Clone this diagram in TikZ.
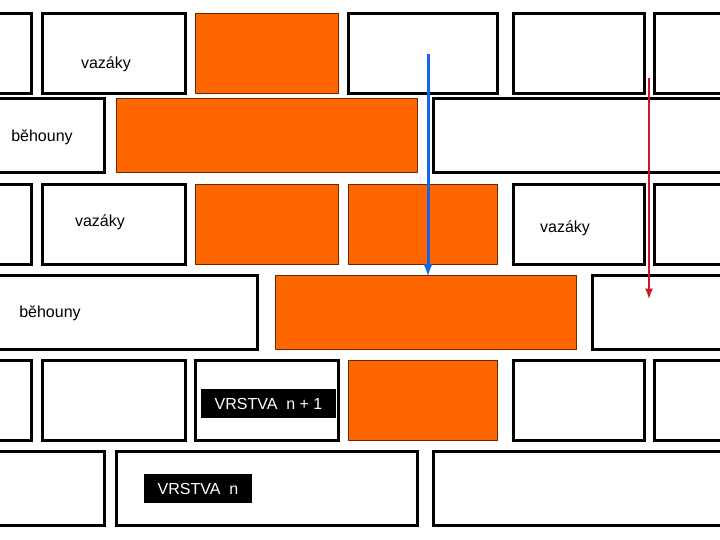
\documentclass[tikz,border=0pt]{standalone}
\usepackage{fontspec}
\setmainfont{Liberation Sans}
\begin{document}
\begin{tikzpicture}[x=1pt,y=-1pt,
  wb/.style={draw=black,line width=3pt,fill=white},
  ob/.style={draw=black!50!brown,line width=1pt,fill=orange!80!red!100},
  lab/.style={font=\fontsize{16}{18}\selectfont,inner sep=0pt},
  tag/.style={font=\fontsize{16}{18}\selectfont,fill=black,text=white,inner sep=3pt,minimum height=29pt}]
\useasboundingbox (0,0) rectangle (720,540);
\definecolor{brick}{RGB}{255,102,0}
\tikzset{ob/.style={draw=black!60!brick,line width=1pt,fill=brick}}
% row 1
\foreach \a/\b in {-20/31,42/185,348/497,513/644,654/740} \draw[wb] (\a,14) rectangle (\b,94);
\draw[ob] (195,14) rectangle (338,94);
% row 2
\foreach \a/\b in {-20/104,433/740} \draw[wb] (\a,99) rectangle (\b,173);
\draw[ob] (116,99) rectangle (417,173);
% row 3
\foreach \a/\b in {-20/31,42/185,513/644,654/740} \draw[wb] (\a,185) rectangle (\b,264);
\draw[ob] (195,185) rectangle (338,264);
\draw[ob] (348,185) rectangle (497,264);
% row 4
\foreach \a/\b in {-20/257,592/740} \draw[wb] (\a,275) rectangle (\b,349);
\draw[ob] (275,275) rectangle (576,349);
% row 5
\foreach \a/\b in {-20/31,42/185,195/338,513/644,654/740} \draw[wb] (\a,360) rectangle (\b,440);
\draw[ob] (348,360) rectangle (497,440);
% row 6
\foreach \a/\b in {-20/104,116/417,433/740} \draw[wb] (\a,451) rectangle (\b,525);
% labels
\node[lab] (v1) at (106,64) {vazáky};
\node[lab] (b1) at (42,137) {běhouny};
\node[lab] (v2) at (100,222) {vazáky};
\node[lab] (v3) at (565,228) {vazáky};
\node[lab] (b2) at (50,313) {běhouny};
\node[tag,minimum width=135pt] (t1) at (268.5,403.5) {VRSTVA\ \ n + 1};
\node[tag,minimum width=108pt] (t2) at (198,488.5) {VRSTVA\ \ n};
% arrows
\coordinate (bs) at (428,54); \coordinate (be) at (428,276);
\coordinate (rs) at (649,78); \coordinate (re) at (649,299);
\draw[-latex,line width=3pt,draw={rgb,255:red,20;green,100;blue,230}] (bs) -- (be);
\draw[-latex,line width=2.5pt,draw={rgb,255:red,210;green,20;blue,30}] (rs) -- (re);
\end{tikzpicture}
\end{document}
